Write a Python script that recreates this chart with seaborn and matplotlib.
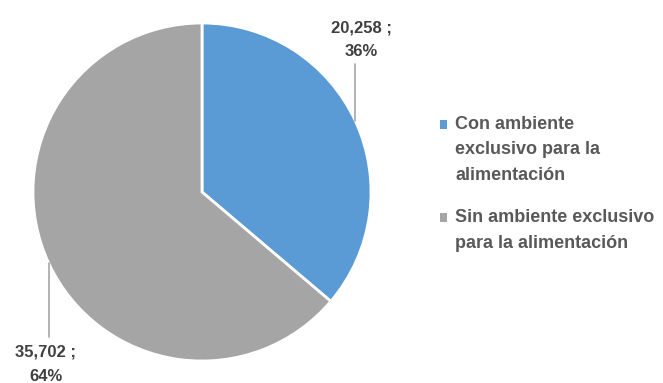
import matplotlib
matplotlib.use("Agg")
import matplotlib.pyplot as plt
from matplotlib.patches import Patch, Rectangle
from matplotlib.legend_handler import HandlerPatch
import seaborn as sns
import numpy as np

categories = ["Con ambiente\nexclusivo para la\nalimentación",
              "Sin ambiente exclusivo\npara la alimentación"]
values = [20258, 35702]
percents = [36, 64]
colors = ["#5B9BD5", "#A5A5A5"]

sns.set_theme(style="white")
plt.rcParams["font.family"] = ["Liberation Sans", "DejaVu Sans"]


class TopSquare(HandlerPatch):
    # put the legend square next to the first line of a wrapped label
    def __init__(self, nlines, pitch=1.42):
        super().__init__()
        self.nlines = nlines
        self.pitch = pitch

    def create_artists(self, legend, orig_handle, xdescent, ydescent,
                       width, height, fontsize, trans):
        shift = (self.nlines - 1) / 2 * self.pitch * fontsize
        p = Rectangle((-xdescent, -ydescent + shift), width, height,
                      facecolor=orig_handle.get_facecolor(), edgecolor="none",
                      transform=trans)
        return [p]


W, H = 663, 383
fig = plt.figure(figsize=(W / 100, H / 100), dpi=100)
cx, cy, r = 202, 192, 169
ax = fig.add_axes([(cx - r) / W, (H - cy - r) / H, 2 * r / W, 2 * r / H])

wedges, _ = ax.pie(values, colors=colors, startangle=90, counterclock=False,
                   wedgeprops={"edgecolor": "white", "linewidth": 2})
ax.set_xlim(-1, 1)
ax.set_ylim(-1, 1)
ax.set_aspect("equal")
ax.axis("off")

# data labels with vertical leader lines from the wedge middle
line_end = [0.76, -0.86]
text_y = [0.90, -1.02]
text_dx = [0.035, -0.017]
for w, v, p, ly, ty, dx in zip(wedges, values, percents, line_end, text_y, text_dx):
    ang = np.deg2rad((w.theta1 + w.theta2) / 2)
    x0, y0 = np.cos(ang), np.sin(ang)
    ax.plot([x0, x0], [y0, ly], color="#A6A6A6", lw=1.2, clip_on=False)
    ax.text(x0 + dx, ty, f"{v:,} ;\n{p}%", ha="center", va="center",
            fontsize=12, fontweight="bold", color="#404040",
            linespacing=1.75, clip_on=False)

handles = [Patch(facecolor=c, edgecolor="none") for c in colors]
handler_map = {h: TopSquare(lab.count("\n") + 1) for h, lab in zip(handles, categories)}
leg = fig.legend(handles, categories, loc="upper left",
                 bbox_to_anchor=(440 / W, 1 - 116 / H), frameon=False,
                 borderpad=0, borderaxespad=0, handler_map=handler_map,
                 handlelength=0.4, handleheight=0.4, handletextpad=0.45,
                 labelspacing=1.4, prop={"size": 13, "weight": "bold"},
                 labelcolor="#595959")
for t in leg.get_texts():
    t.set_linespacing(1.65)

fig.savefig("out.png", dpi=100)
